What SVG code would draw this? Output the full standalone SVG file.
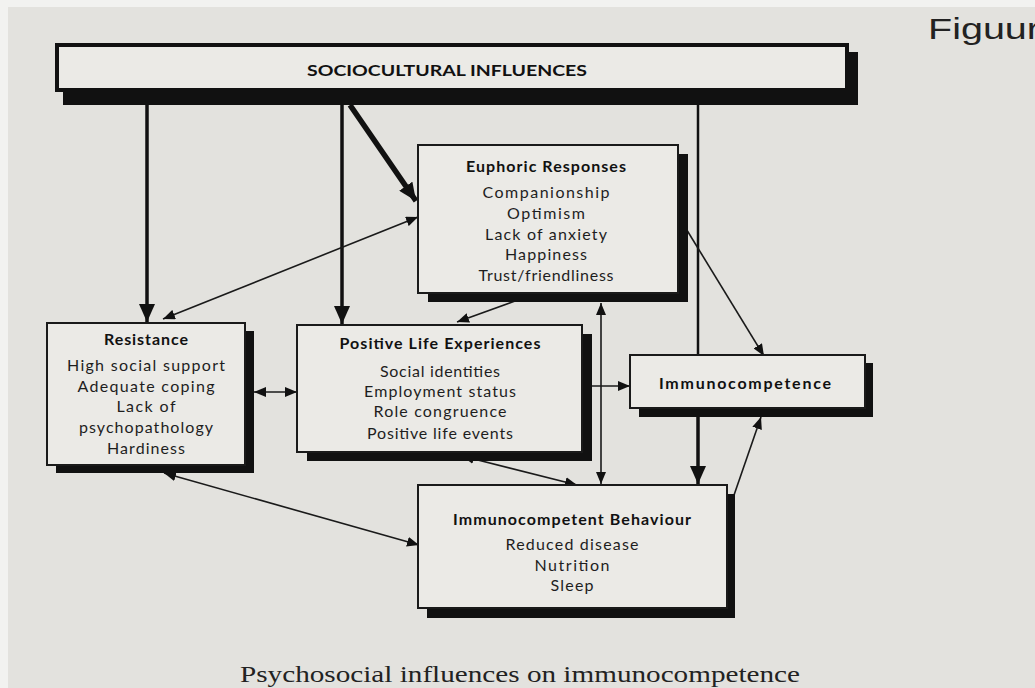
<svg xmlns="http://www.w3.org/2000/svg" width="1035" height="688" viewBox="0 0 1035 688">
<style>
.t{font-family:Lato,"Liberation Sans",sans-serif;font-size:16px;fill:#1e1e1e;text-anchor:middle}
.h{font-family:Lato,"Liberation Sans",sans-serif;font-size:16px;fill:#111;text-anchor:middle;font-weight:bold}
.box{fill:#ebeae6;stroke:#1a1a1a;stroke-width:2}
.sh{fill:#111}
.thick{stroke:#111;stroke-width:3.5;fill:none}
.thin{stroke:#1a1a1a;stroke-width:1.6;fill:none}
</style>
<defs>
<marker id="ab" markerUnits="userSpaceOnUse" markerWidth="18" markerHeight="16" refX="18" refY="8" orient="auto-start-reverse"><path d="M0,0 L18,8 L0,16 z" fill="#111"/></marker>
<marker id="as" markerUnits="userSpaceOnUse" markerWidth="12" markerHeight="10" refX="12" refY="5" orient="auto-start-reverse"><path d="M0,0 L12,5 L0,10 z" fill="#111"/></marker>
</defs>
<rect x="0" y="0" width="1035" height="688" fill="#e3e2de"/>
<rect x="0" y="0" width="1035" height="7" fill="#f2f2f0"/>
<rect x="0" y="0" width="8" height="688" fill="#f2f2f0"/>

<g id="connectors">
<line class="thick" x1="147" y1="105" x2="147" y2="322" marker-end="url(#ab)"/>
<line class="thick" x1="342" y1="105" x2="342" y2="324" marker-end="url(#ab)"/>
<line stroke="#111" stroke-width="5.5" x1="350" y1="105" x2="416" y2="201" marker-end="url(#ab)"/>
<line stroke="#111" stroke-width="2.5" x1="698" y1="105" x2="698" y2="356"/>
<line class="thick" x1="698" y1="416" x2="698" y2="484" marker-end="url(#ab)"/>
<line class="thin" x1="163" y1="319" x2="418" y2="217" marker-start="url(#as)" marker-end="url(#as)"/>
<line class="thin" stroke-width="2" x1="515" y1="301" x2="457" y2="322" marker-end="url(#as)"/>
<line class="thin" stroke-width="2" x1="601" y1="303" x2="601" y2="484" marker-start="url(#as)" marker-end="url(#as)"/>
<line class="thin" x1="685" y1="227" x2="764" y2="356" marker-end="url(#as)"/>
<line class="thin" stroke-width="2" x1="254" y1="392" x2="297" y2="392" marker-start="url(#as)" marker-end="url(#as)"/>
<line class="thin" x1="592" y1="386" x2="630" y2="386" marker-end="url(#as)"/>
<line class="thin" stroke-width="2" x1="462" y1="456" x2="577" y2="485" marker-start="url(#as)" marker-end="url(#as)"/>
<line class="thin" stroke-width="2" x1="164" y1="473" x2="419" y2="545" marker-start="url(#as)" marker-end="url(#as)"/>
<line class="thin" x1="733" y1="498" x2="761" y2="417" marker-end="url(#as)"/>
</g>

<g id="sociocultural">
<rect class="sh" x="63" y="52" width="795" height="53"/>
<rect x="57" y="45" width="790" height="45" fill="#ebeae6" stroke="#111" stroke-width="4"/>
<text class="h" x="447" y="76" font-size="17" textLength="280" lengthAdjust="spacingAndGlyphs">SOCIOCULTURAL INFLUENCES</text>
</g>

<g id="euphoric">
<rect class="sh" x="428" y="154" width="260" height="148"/>
<rect class="box" x="418" y="145" width="260" height="148"/>
<text class="h" x="546" y="172" textLength="160">Euphoric Responses</text>
<text class="t" x="546" y="198" textLength="127">Companionship</text>
<text class="t" x="546" y="219" textLength="78">Optimism</text>
<text class="t" x="546" y="240" textLength="122">Lack of anxiety</text>
<text class="t" x="546" y="260" textLength="82">Happiness</text>
<text class="t" x="546" y="281" textLength="135">Trust/friendliness</text>
</g>

<g id="resistance">
<rect class="sh" x="56" y="331" width="198" height="142"/>
<rect class="box" x="47" y="323" width="198" height="142"/>
<text class="h" x="146" y="345" textLength="84">Resistance</text>
<text class="t" x="146" y="371" textLength="158">High social support</text>
<text class="t" x="146" y="392" textLength="137">Adequate coping</text>
<text class="t" x="146" y="412" textLength="59">Lack of</text>
<text class="t" x="146" y="433" textLength="134">psychopathology</text>
<text class="t" x="146" y="454" textLength="78">Hardiness</text>
</g>

<g id="positive">
<rect class="sh" x="307" y="334" width="285" height="127"/>
<rect class="box" x="297" y="325" width="285" height="127"/>
<text class="h" x="440" y="349" textLength="201">Positive Life Experiences</text>
<text class="t" x="440" y="377" textLength="120">Social identities</text>
<text class="t" x="440" y="397" textLength="152">Employment status</text>
<text class="t" x="440" y="417" textLength="133">Role congruence</text>
<text class="t" x="440" y="439" textLength="146">Positive life events</text>
</g>

<g id="immunocompetence">
<rect class="sh" x="639" y="363" width="234" height="54"/>
<rect class="box" x="630" y="355" width="235" height="53"/>
<text class="h" x="745" y="389" textLength="172">Immunocompetence</text>
</g>

<g id="behaviour">
<rect class="sh" x="427" y="494" width="308" height="124"/>
<rect class="box" x="418" y="485" width="309" height="123"/>
<text class="h" x="572" y="525" textLength="238">Immunocompetent Behaviour</text>
<text class="t" x="572" y="550" textLength="133">Reduced disease</text>
<text class="t" x="572" y="571" textLength="75">Nutrition</text>
<text class="t" x="572" y="591" textLength="43">Sleep</text>
</g>

<text x="520" y="682" font-family="Liberation Serif,serif" font-size="23" fill="#222" text-anchor="middle" textLength="560" lengthAdjust="spacingAndGlyphs">Psychosocial influences on immunocompetence</text>
<text x="928" y="39" font-family="Liberation Sans,Arial,sans-serif" font-size="30" fill="#222" textLength="112" lengthAdjust="spacingAndGlyphs">Figuur</text>
</svg>
